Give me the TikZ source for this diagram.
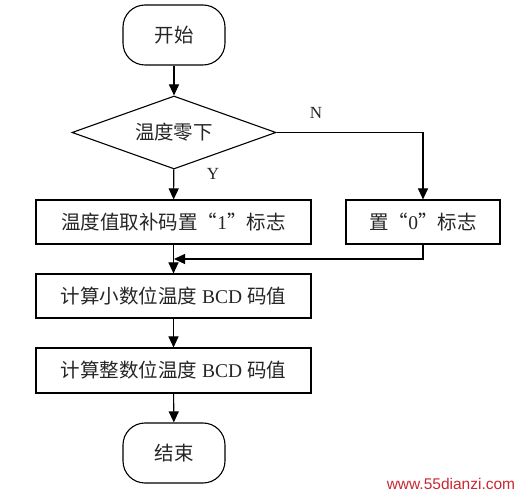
\documentclass[tikz,border=0pt]{standalone}
\usepackage{fontspec}
\setmainfont{Liberation Serif}
\newfontfamily\cjk{Noto Sans CJK SC}
\newfontfamily\wmfont{Liberation Sans}
\usetikzlibrary{shapes.geometric,arrows.meta}
\begin{document}
\begin{tikzpicture}[x=1pt,y=-1pt,
  line width=1.1pt,
  every node/.style={font=\fontsize{19.5}{22}\selectfont, text=black!85},
  terminal/.style={draw, rectangle, rounded corners=22pt, minimum width=102pt, minimum height=60pt, inner sep=0pt},
  procbox/.style={draw, rectangle, minimum height=44pt, inner sep=0pt},
  decision/.style={draw, diamond, aspect=2.79, minimum width=204pt, minimum height=73pt, inner sep=0pt},
  arr/.style={-{Triangle[length=11pt,width=10pt]}},
  lbl/.style={font=\fontsize{17}{19}\selectfont}
]
\useasboundingbox (0,0) rectangle (523,494);
\fill[white] (0,0) rectangle (523,494);
\node[terminal] (start) at (174,35) {\cjk 开始};
\node[decision] (dec) at (174,132.5) {\cjk 温度零下};
\node[procbox, minimum width=275pt] (b1) at (173.5,222) {{\cjk 温度值取补码置“}1{\cjk ”标志}};
\node[procbox, minimum width=154pt] (b2) at (423,222) {{\cjk 置“}0{\cjk ”标志}};
\node[procbox, minimum width=275pt] (b3) at (173.5,296) {{\cjk 计算小数位温度} BCD {\cjk 码值}};
\node[procbox, minimum width=275pt, minimum height=45pt] (b4) at (173.5,370.5) {{\cjk 计算整数位温度} BCD {\cjk 码值}};
\node[terminal] (end) at (174,453) {\cjk 结束};
\coordinate (m) at (174,259);
\node[lbl] (nl) at (316,113) {N};
\node[lbl] (yl) at (213,174) {Y};
\draw[arr] (start) -- (dec);
\draw[arr] (dec) -- (b1);
\draw[arr] (dec.east) -| (b2.north);
\draw[arr] (b2.south) |- (m);
\draw[arr] (b1) -- (b3);
\draw[arr] (b3) -- (b4);
\draw[arr] (b4) -- (end);
\node[font=\wmfont\fontsize{15.5}{17}\selectfont, text={rgb,255:red,200;green,40;blue,50}, anchor=east] (wm) at (519,484) {www.55dianzi.com};
\end{tikzpicture}
\end{document}
